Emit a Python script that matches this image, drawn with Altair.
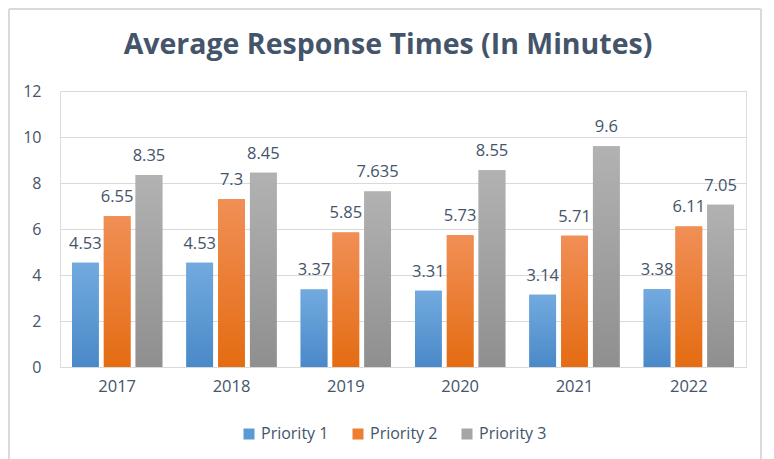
import altair as alt
import pandas as pd

years = ["2017", "2018", "2019", "2020", "2021", "2022"]
series = ["Priority 1", "Priority 2", "Priority 3"]
p1 = [4.53, 4.53, 3.37, 3.31, 3.14, 3.38]
p2 = [6.55, 7.3, 5.85, 5.73, 5.71, 6.11]
p3 = [8.35, 8.45, 7.635, 8.55, 9.6, 7.05]
labels = [["4.53", "4.53", "3.37", "3.31", "3.14", "3.38"],
          ["6.55", "7.3", "5.85", "5.73", "5.71", "6.11"],
          ["8.35", "8.45", "7.635", "8.55", "9.6", "7.05"]]
title_text = "Average Response Times (In Minutes)"
solid = ["#5B9BD5", "#ED7D31", "#A5A5A5"]
tops = ["#72AADF", "#F18F56", "#B2B2B2"]
bottoms = ["#4A89C8", "#E46C12", "#8F8F8F"]

rows = []
for si, (s, vals) in enumerate(zip(series, [p1, p2, p3])):
    for yi, (y, v) in enumerate(zip(years, vals)):
        rows.append({"year": y, "series": s, "value": v, "label": labels[si][yi]})
df = pd.DataFrame(rows)

FONT = "Open Sans"
TXT = "#44546A"
W, H = 686, 276

xenc = alt.X("year:N", sort=years, title=None,
             scale=alt.Scale(paddingInner=0.21, paddingOuter=0.105),
             axis=alt.Axis(labelAngle=0, ticks=False, domainColor="#D9D9D9",
                           labelFontSize=16.5, labelColor=TXT, labelFont=FONT,
                           labelPadding=11, grid=False))
xoff = alt.XOffset("series:N", sort=series, scale=alt.Scale(paddingInner=0.16, paddingOuter=0))
yenc = alt.Y("value:Q", title=None,
             scale=alt.Scale(domain=[0, 12]),
             axis=alt.Axis(values=[0, 2, 4, 6, 8, 10, 12], domain=False, ticks=False,
                           gridColor="#D9D9D9", labelFontSize=16, labelColor=TXT,
                           labelFont=FONT, labelPadding=19))

base = alt.Chart(df).mark_bar().encode(
    x=xenc, xOffset=xoff, y=yenc,
    color=alt.Color("series:N", sort=series,
                    scale=alt.Scale(domain=series, range=solid),
                    legend=alt.Legend(title=None, orient="none", direction="horizontal",
                                      legendX=181, legendY=335, symbolType="square",
                                      symbolSize=121, symbolStrokeWidth=0,
                                      labelFontSize=16, labelColor=TXT, labelFont=FONT,
                                      columnPadding=21, labelOffset=4)),
)

layers = [base]
for i, s in enumerate(series):
    grad = alt.Gradient(gradient="linear",
                        stops=[alt.GradientStop(color=tops[i], offset=0),
                               alt.GradientStop(color=bottoms[i], offset=1)],
                        x1=0, x2=0, y1=0, y2=1)
    layers.append(
        alt.Chart(df).transform_filter(alt.datum.series == s).mark_bar(color=grad).encode(
            x=xenc, xOffset=xoff, y=yenc)
    )

text = alt.Chart(df).mark_text(fontSize=16.5, font=FONT, color=TXT,
                               baseline="alphabetic", dy=-14).encode(
    x=xenc, xOffset=xoff, y=yenc, text="label:N")
layers.append(text)

border = alt.Chart(df).mark_rect(fill="transparent", stroke="#D9D9D9", strokeWidth=1).encode(
    x=alt.value(-51), x2=alt.value(701), y=alt.value(-82), y2=alt.value(375))

title = alt.Chart(pd.DataFrame({"t": [title_text]})).mark_text(
    fontSize=28.5, font=FONT, fontWeight="bold", color=TXT,
    baseline="middle", align="center").encode(
    x=alt.value(328), y=alt.value(-46), text="t:N")

chart = alt.layer(border, title, *layers).properties(
    width=W, height=H, padding=0,
).configure_view(stroke=None).configure(background="white")

chart.save("out.html", embed_options={"renderer": "svg", "actions": False})
